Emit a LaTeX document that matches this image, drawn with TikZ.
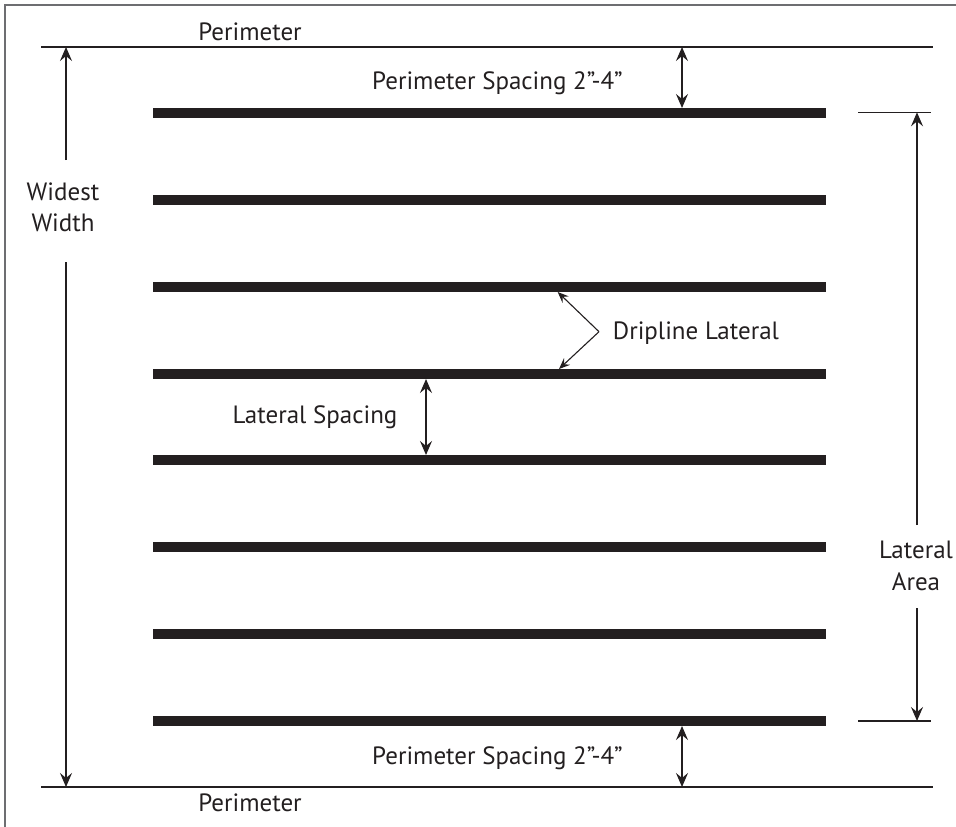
\documentclass[tikz,border=0pt]{standalone}
\usepackage{fontspec}
\setmainfont{PT Sans}
\usetikzlibrary{arrows.meta}
\definecolor{ink}{HTML}{231F20}
\definecolor{framecol}{HTML}{6D6E71}
\tikzset{
  lbl/.style={text=ink, inner sep=0pt, font=\fontsize{25}{32}\selectfont},
  perim/.style={draw=ink, line width=2.2pt},
  lateral/.style={draw=ink, line width=10pt},
  tick/.style={draw=ink, line width=1.3pt},
  dim/.style={draw=ink, line width=1.4pt, -{Stealth[length=14pt, width=12pt, inset=5pt]}},
  dimtwo/.style={draw=ink, line width=1.4pt, {Stealth[length=14pt, width=12pt, inset=5pt]}-{Stealth[length=14pt, width=12pt, inset=5pt]}},
  small/.style={draw=ink, line width=1.1pt, -{Stealth[length=11pt, width=9pt, inset=4pt]}}
}
\begin{document}
\begin{tikzpicture}[x=1pt, y=-1pt]
\useasboundingbox (0,0) rectangle (956,827);
% frame
\draw[framecol, line width=2pt] (5,827) -- (5,5) -- (956,5);
% perimeter lines
\coordinate (pt1) at (41,47);  \coordinate (pt2) at (933,47);
\coordinate (pb1) at (41,787); \coordinate (pb2) at (933,787);
\draw[perim] (pt1) -- (pt2);
\draw[perim] (pb1) -- (pb2);
% laterals
\foreach \i/\y in {1/113,2/199.9,3/286.7,4/373.6,5/460.4,6/547.3,7/634.1,8/721}{
  \coordinate (L\i a) at (153,\y);
  \coordinate (L\i b) at (826,\y);
  \draw[lateral] (L\i a) -- (L\i b);
}
% texts
\node[lbl, anchor=base] (ptop) at (250,40.7) {Perimeter};
\node[lbl, anchor=base] (pbot) at (250,811.7) {Perimeter};
\node[lbl, anchor=base west] (pstop) at (372,89) {Perimeter Spacing 2”-4”};
\node[lbl, anchor=base west] (psbot) at (372,764) {Perimeter Spacing 2”-4”};
\node[lbl, anchor=base, align=center] (ww1) at (63,200) {Widest};
\node[lbl, anchor=base, align=center] (ww2) at (63,231.7) {Width};
\node[lbl, anchor=base] (la1) at (916,558) {Lateral};
\node[lbl, anchor=base] (la2) at (916,590) {Area};
\node[lbl, anchor=base west] (drip) at (612.7,339) {Dripline Lateral};
\node[lbl, anchor=base west] (lsp) at (232.3,423.3) {Lateral Spacing};
% widest width
\coordinate (w1) at (66,160); \coordinate (w1e) at (66,47);
\coordinate (w2) at (66,262); \coordinate (w2e) at (66,787);
\draw[dim] (w1) -- (w1e);
\draw[dim] (w2) -- (w2e);
% perimeter spacing
\coordinate (s1a) at (682,47); \coordinate (s1b) at (682,108);
\coordinate (s2a) at (682,726); \coordinate (s2b) at (682,787);
\draw[dimtwo] (s1a) -- (s1b);
\draw[dimtwo] (s2a) -- (s2b);
% lateral area
\coordinate (t1a) at (858,112.3); \coordinate (t1b) at (931,112.3);
\coordinate (t2a) at (858,721);   \coordinate (t2b) at (931,721);
\draw[tick] (t1a) -- (t1b);
\draw[tick] (t2a) -- (t2b);
\coordinate (a1) at (917,525); \coordinate (a1e) at (917,112.3);
\coordinate (a2) at (917,608); \coordinate (a2e) at (917,721);
\draw[dim] (a1) -- (a1e);
\draw[dim] (a2) -- (a2e);
% dripline lateral
\coordinate (apex) at (599,331.7);
\coordinate (d1) at (557.7,292);
\coordinate (d2) at (559,369);
\draw[small] (apex) -- (d1);
\draw[small] (apex) -- (d2);
% lateral spacing
\coordinate (ls1) at (426,379); \coordinate (ls2) at (426,455);
\draw[dimtwo] (ls1) -- (ls2);
\end{tikzpicture}
\end{document}
